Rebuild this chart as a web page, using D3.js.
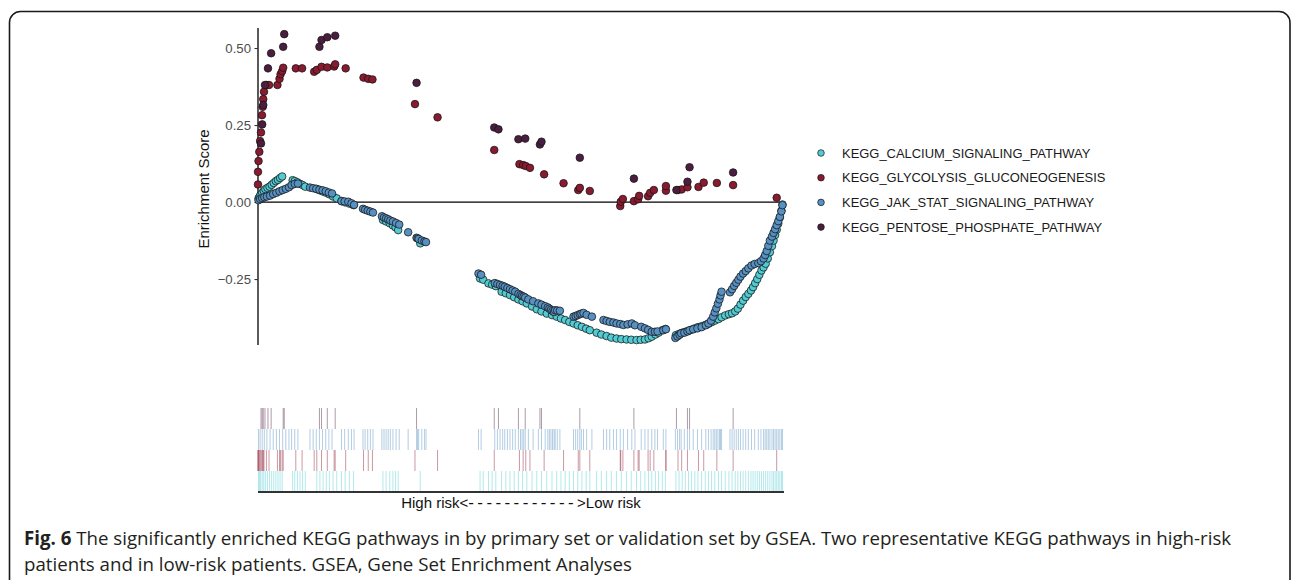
<!DOCTYPE html>
<html><head><meta charset="utf-8">
<script src="https://cdn.jsdelivr.net/npm/d3@7"></script>
<style>html,body{margin:0;padding:0;background:#fff;}svg{display:block;}</style>
</head><body>
<svg id="chart" width="1292" height="580"></svg>
<script>
// ---- data: [gene rank (% of ranked list), running enrichment score] ----
const seriesNames = ["KEGG_CALCIUM_SIGNALING_PATHWAY","KEGG_GLYCOLYSIS_GLUCONEOGENESIS","KEGG_JAK_STAT_SIGNALING_PATHWAY","KEGG_PENTOSE_PHOSPHATE_PATHWAY"];
const seriesColors = ["#52CBD3","#8A1A30","#5790C2","#4B1E40"];

const calcium = [
[0.1,0.012],[0.3,0.018],[0.5,0.024],[0.8,0.03],[1.1,0.036],[1.4,0.042],[1.8,0.046],[2.2,0.05],[2.6,0.056],[3.0,0.062],[3.4,0.068],[3.8,0.072],[4.2,0.078],[4.6,0.083],
[6.6,0.071],[7.0,0.068],[7.5,0.064],[8.0,0.059],[8.5,0.055],[9.0,0.05],
[11.2,0.042],[11.8,0.038],[12.4,0.034],[13.0,0.03],[13.6,0.025],[14.3,0.018],[15.0,0.012],[15.9,0.003],[16.6,-0.001],[17.4,-0.005],[18.2,-0.01],
[23.8,-0.058],[24.4,-0.063],[25.1,-0.069],[25.7,-0.076],[26.2,-0.082],[26.7,-0.091],[30.9,-0.134],
[42.3,-0.248],[42.9,-0.252],[43.9,-0.264],[44.6,-0.268],[45.3,-0.273],[46.4,-0.291],[47.2,-0.296],[48.0,-0.302],[48.8,-0.309],[49.6,-0.316],[50.4,-0.322],[51.2,-0.329],[52.2,-0.339],[53.1,-0.348],[54.0,-0.355],[55.0,-0.362],[56.0,-0.367],[56.9,-0.372],[57.7,-0.378],[58.5,-0.383],[59.3,-0.389],[60.1,-0.394],[60.9,-0.4],[61.7,-0.405],[62.5,-0.411],[63.2,-0.416],[64.5,-0.424],[65.4,-0.43],[66.4,-0.435],[67.3,-0.44],[68.3,-0.443],[69.2,-0.445],[70.2,-0.446],[71.1,-0.447],[72.1,-0.448],[72.9,-0.447],[73.7,-0.446],[74.4,-0.442],[75.0,-0.437],[75.7,-0.43],[76.3,-0.424],[77.0,-0.416],[77.6,-0.412],
[79.6,-0.432],[80.2,-0.428],[80.8,-0.424],[81.4,-0.421],[82.0,-0.418],[82.6,-0.414],[83.2,-0.41],[83.8,-0.406],[84.5,-0.403],[85.2,-0.399],[85.8,-0.395],[86.4,-0.39],[87.0,-0.385],[87.7,-0.38],[88.3,-0.374],[89.0,-0.368],[89.7,-0.364],[90.3,-0.361],[90.9,-0.355],[91.4,-0.346],[91.9,-0.333],[92.4,-0.32],[92.9,-0.308],[93.4,-0.298],[93.9,-0.287],[94.3,-0.276],[94.7,-0.263],[95.1,-0.25],[95.5,-0.236],[95.9,-0.222],[96.3,-0.212],[96.7,-0.2],[97.1,-0.183],[97.5,-0.163],[97.9,-0.143],[98.2,-0.125],[98.5,-0.107],[98.8,-0.09],[99.1,-0.07],[99.4,-0.05],[99.7,-0.028],[99.9,-0.008]
];

const glycolysis = [
[0.0,0.057],[0.0,0.098],[0.1,0.133],[0.25,0.163],[0.4,0.198],[0.57,0.226],[0.76,0.282],[0.9,0.309],[1.0,0.334],[1.14,0.358],[1.6,0.38],[2.1,0.38],[3.7,0.38],[4.1,0.4],[4.3,0.415],[4.6,0.425],[4.8,0.436],
[7.2,0.434],[8.4,0.434],[10.7,0.423],[11.2,0.429],[12.1,0.439],[13.2,0.437],[14.5,0.44],[14.7,0.447],[16.7,0.434],[20.1,0.404],[21.0,0.4],[21.8,0.398],[29.9,0.318],[34.2,0.275],
[45.0,0.169],[49.8,0.123],[50.5,0.12],[51.0,0.117],[51.8,0.111],[54.5,0.09],[58.2,0.061],[61.0,0.039],[61.3,0.046],[63.2,0.036],
[69.0,-0.013],[69.1,0.001],[69.5,0.01],[71.6,0.003],[72.4,0.009],[72.6,0.02],[74.3,0.019],[74.7,0.03],[75.4,0.039],[77.7,0.037],[77.7,0.052],[80.0,0.039],[80.7,0.041],[81.8,0.048],[83.9,0.049],[84.9,0.063],[87.4,0.062],[90.5,0.055],[98.8,0.014]
];

const jakStat = [
[0.1,0.006],[0.4,0.01],[0.8,0.013],[1.2,0.016],[1.7,0.018],[2.3,0.021],[2.9,0.026],[3.5,0.03],[4.1,0.035],[4.7,0.039],[5.3,0.043],[5.9,0.048],[6.4,0.055],[7.0,0.059],[7.6,0.06],
[9.9,0.047],[10.5,0.045],[11.1,0.043],[11.7,0.04],[12.3,0.038],[12.9,0.035],[13.5,0.031],[14.1,0.028],
[15.9,0.003],[16.5,0.002],[17.2,0.001],[17.8,-0.004],[18.3,-0.009],
[20.0,-0.022],[20.4,-0.025],[20.9,-0.028],[21.4,-0.031],[21.9,-0.034],
[23.6,-0.046],[24.0,-0.05],[24.4,-0.053],[24.8,-0.056],[25.2,-0.06],[25.7,-0.063],[26.3,-0.068],[26.9,-0.073],[28.6,-0.098],
[30.2,-0.116],[30.4,-0.118],[30.6,-0.12],[31.2,-0.125],[31.7,-0.128],[32.0,-0.13],
[42.0,-0.232],[42.5,-0.236],[45.1,-0.263],[45.6,-0.266],[46.1,-0.269],[46.6,-0.272],[47.0,-0.275],[47.5,-0.279],[48.0,-0.283],[48.5,-0.287],[49.0,-0.291],[49.6,-0.298],[50.0,-0.302],[50.3,-0.305],[50.6,-0.307],[50.9,-0.31],[51.5,-0.316],[52.4,-0.322],[53.4,-0.329],[54.0,-0.333],[54.7,-0.338],[55.2,-0.342],[55.5,-0.346],[55.8,-0.35],[56.1,-0.354],[56.4,-0.357],[56.6,-0.351],[57.0,-0.352],[57.5,-0.353],
[60.1,-0.372],[60.5,-0.37],[60.9,-0.367],[61.3,-0.364],[61.6,-0.362],[62.0,-0.36],[62.6,-0.366],[63.6,-0.372],
[65.8,-0.383],[66.4,-0.386],[67.0,-0.389],[67.7,-0.391],[68.3,-0.394],[69.0,-0.396],[69.6,-0.399],[70.4,-0.397],[71.2,-0.394],[71.8,-0.4],[73.0,-0.405],[73.7,-0.41],[74.3,-0.415],[75.0,-0.421],[75.6,-0.421],[76.1,-0.42],[77.2,-0.416],[77.7,-0.413],
[79.5,-0.441],[79.9,-0.436],[80.3,-0.431],[80.6,-0.426],[81.2,-0.424],[81.8,-0.42],[82.2,-0.416],[82.9,-0.413],[83.7,-0.41],[84.5,-0.406],[85.3,-0.4],[85.8,-0.394],[86.3,-0.385],[86.7,-0.372],[87.0,-0.358],[87.3,-0.345],[87.6,-0.33],[87.9,-0.316],[88.1,-0.303],[88.3,-0.291],
[89.9,-0.293],[90.3,-0.283],[90.7,-0.272],[91.1,-0.262],[91.5,-0.252],[91.9,-0.242],[92.4,-0.232],[92.9,-0.224],[93.4,-0.215],[94.0,-0.206],[94.6,-0.201],[95.3,-0.198],[95.8,-0.192],[96.3,-0.183],[96.6,-0.172],[96.9,-0.159],[97.2,-0.142],[97.5,-0.125],[97.9,-0.112],[98.2,-0.1],[98.5,-0.088],[98.8,-0.075],[99.1,-0.062],[99.4,-0.048],[99.7,-0.03],[99.9,-0.01]
];

const pentose = [
[0.57,0.19],[0.8,0.252],[1.0,0.315],[1.33,0.38],[1.9,0.434],[2.5,0.483],[4.8,0.504],[5.0,0.545],
[11.7,0.504],[12.1,0.526],[13.2,0.535],[14.7,0.54],[30.2,0.387],
[45.0,0.242],[45.8,0.236],[49.6,0.204],[50.9,0.206],[53.7,0.187],[54.0,0.196],[61.3,0.144],[71.6,0.076],[79.7,0.039],[81.8,0.066],[82.2,0.113],[90.5,0.096]
];

const yTicks = [-0.25, 0, 0.25, 0.5];
const xLabel = "High risk<------------>Low risk";
const yLabel = "Enrichment Score";
const captionBold = "Fig. 6";
const captionLine1 = " The significantly enriched KEGG pathways in by primary set or validation set by GSEA. Two representative KEGG pathways in high-risk";
const captionLine2 = "patients and in low-risk patients. GSEA, Gene Set Enrichment Analyses";

// ---- drawing ----
const allSeries = [calcium, glycolysis, jakStat, pentose];
const svg = d3.select("#chart");
const sans = "'Liberation Sans', Arial, sans-serif";

// frame
svg.append("rect").attr("x",9.5).attr("y",11.5).attr("width",1280.5).attr("height",620)
  .attr("rx",11).attr("ry",11).attr("fill","none").attr("stroke","#1a1a1a").attr("stroke-width",1.6);

const x = d3.scaleLinear().domain([0,100]).range([258,783]);
const y = d3.scaleLinear().domain([-0.464,0.565]).range([345,28]);

// y axis
const yAxis = d3.axisLeft(y).tickValues(yTicks).tickFormat(d3.format(".2f")).tickSize(3.5).tickPadding(3.5);
const gy = svg.append("g").attr("transform","translate(258,0)").call(yAxis);
gy.select(".domain").attr("stroke","#000").attr("stroke-width",1.3).attr("d","M0,28V345");
gy.selectAll(".tick line").attr("stroke","#333").attr("stroke-width",1.1);
gy.selectAll(".tick text").attr("fill","#4d4d4d").style("font-family",sans).style("font-size","13.2px");

svg.append("text").attr("transform","translate(209,189) rotate(-90)").attr("text-anchor","middle")
  .style("font-family",sans).style("font-size","15px").attr("fill","#111").text(yLabel);

// zero line
svg.append("line").attr("x1",x(0)).attr("x2",x(100)).attr("y1",y(0)).attr("y2",y(0))
  .attr("stroke","#000").attr("stroke-width",1.3);

// points
allSeries.forEach((s,i)=>{
  svg.append("g").selectAll("circle").data(s).join("circle")
    .attr("cx",d=>x(d[0])).attr("cy",d=>y(d[1])).attr("r",3.8)
    .attr("fill",seriesColors[i]).attr("stroke","#141414").attr("stroke-width",0.75);
});

// legend
const lg = svg.append("g");
seriesNames.forEach((n,i)=>{
  const cy = 153 + i*24.7;
  lg.append("circle").attr("cx",821).attr("cy",cy).attr("r",3.3).attr("fill",seriesColors[i]).attr("stroke","#141414").attr("stroke-width",0.7);
  lg.append("text").attr("x",842).attr("y",cy+4.7).style("font-family",sans)
    .style("font-size","12.95px").attr("fill","#1a1a1a").text(n);
});

// rug rows (top to bottom: pentose, jak, glycolysis, calcium)
const rugOrder = [3,2,1,0];
const rowTop = d3.scaleBand().domain(rugOrder).range([408,492]).padding(0);
rugOrder.forEach(idx=>{
  svg.append("g").selectAll("line").data(allSeries[idx]).join("line")
    .attr("x1",d=>x(d[0])).attr("x2",d=>x(d[0]))
    .attr("y1",rowTop(idx)).attr("y2",rowTop(idx)+rowTop.bandwidth())
    .attr("stroke",seriesColors[idx]).attr("stroke-opacity",0.45).attr("stroke-width",1);
});
svg.append("line").attr("x1",x(0)).attr("x2",x(100)+1).attr("y1",492).attr("y2",492).attr("stroke","#333").attr("stroke-width",2.2);

// x label
const parts = xLabel.match(/^(.*<)(-+)(>.*)$/);
const xt = svg.append("text").attr("x",521).attr("y",507.5).attr("text-anchor","middle")
  .style("font-family",sans).style("font-size","15px").attr("fill","#111");
xt.append("tspan").text(parts[1]);
xt.append("tspan").style("font-size","17px").style("letter-spacing","3.4px").text(parts[2]);
xt.append("tspan").text(parts[3]);

// caption
const cap = svg.append("text").attr("x",24).attr("y",545).style("font-family","'Open Sans', sans-serif").style("font-size","18.7px").attr("fill","#231f20");
cap.append("tspan").style("font-weight","700").text(captionBold);
cap.append("tspan").text(captionLine1);
svg.append("text").attr("x",24).attr("y",571).style("font-family","'Open Sans', sans-serif").style("font-size","18.7px").attr("fill","#231f20").text(captionLine2);
</script>
</body></html>
